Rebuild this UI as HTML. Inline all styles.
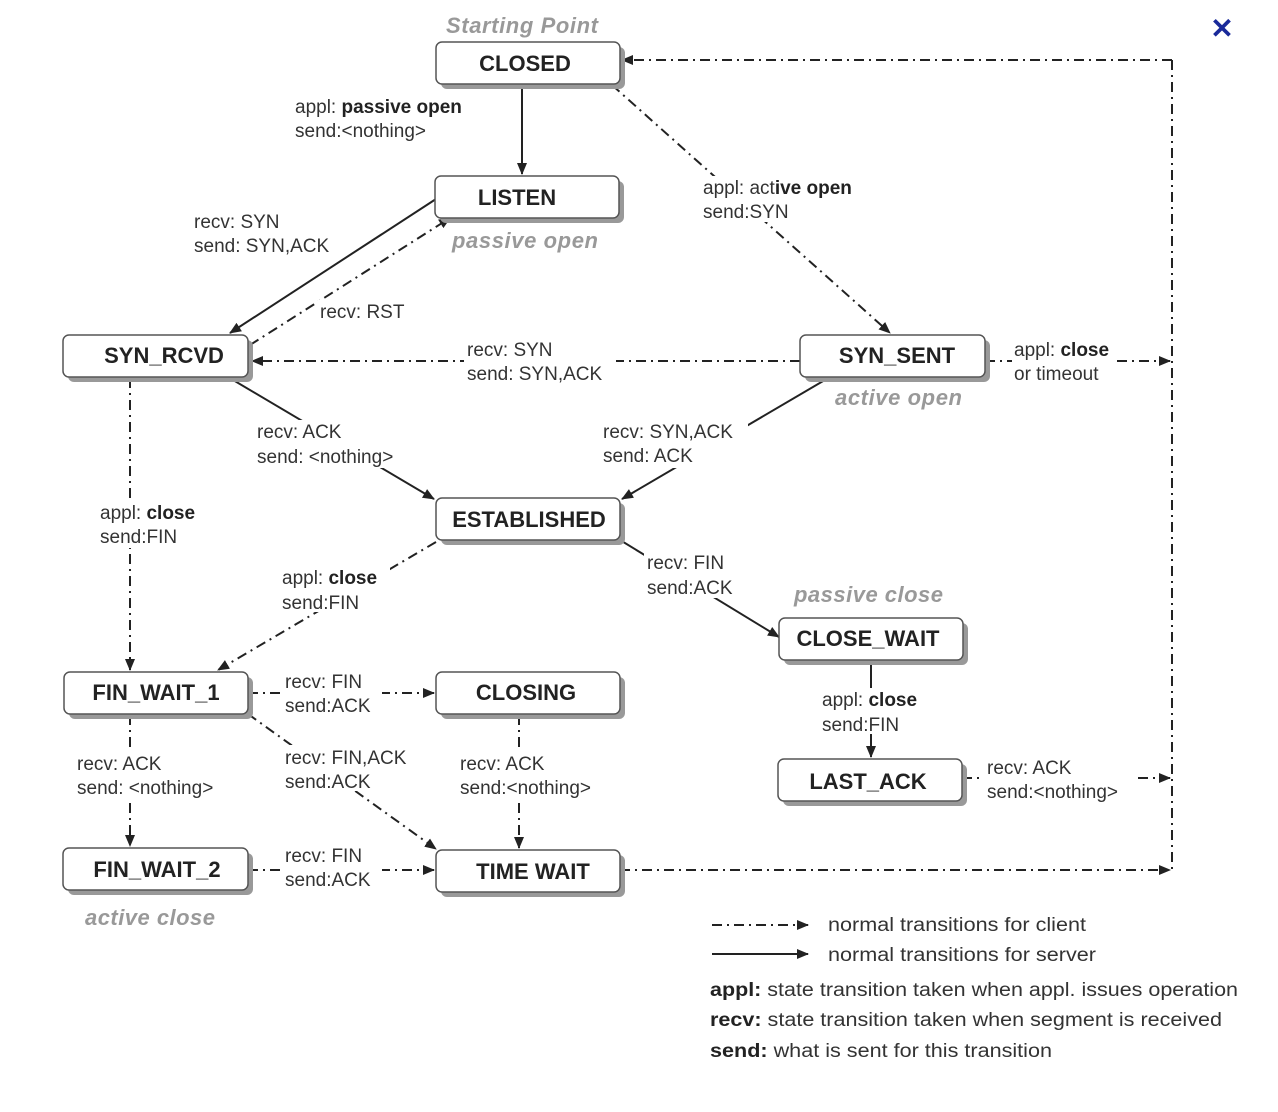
<!DOCTYPE html>
<html><head><meta charset="utf-8"><style>
html,body{margin:0;padding:0;background:#fff;}
svg{display:block;font-family:"Liberation Sans",Arial,sans-serif;}
.st{font-weight:bold;font-size:22px;fill:#222;text-anchor:middle;}
.lb{font-size:19px;fill:#333;}
.it{font-size:22px;fill:#999;font-style:italic;font-weight:bold;}
.d{stroke:#222;stroke-width:2;fill:none;stroke-dasharray:10,5,2,5;}
.s{stroke:#222;stroke-width:2;fill:none;}
.bg{fill:#fff;}
</style></head><body>
<svg width="1278" height="1112" viewBox="0 0 1278 1112" xmlns="http://www.w3.org/2000/svg">
<defs>
<marker id="a" markerWidth="12" markerHeight="10" refX="11" refY="5" orient="auto" markerUnits="userSpaceOnUse"><path d="M0,0 L12,5 L0,10 z" fill="#222"/></marker>
</defs>

<line class="s" x1="522" y1="85" x2="522" y2="174" marker-end="url(#a)"/>
<line class="s" x1="436" y1="199" x2="230" y2="333" marker-end="url(#a)"/>
<line class="d" x1="250" y1="345" x2="450" y2="218" marker-end="url(#a)"/>
<line class="d" x1="612" y1="85" x2="890" y2="333" marker-end="url(#a)"/>
<line class="d" x1="800" y1="361" x2="252" y2="361" marker-end="url(#a)"/>
<line class="s" x1="228" y1="377" x2="434" y2="499" marker-end="url(#a)"/>
<line class="s" x1="830" y1="377" x2="622" y2="499" marker-end="url(#a)"/>
<line class="d" x1="130" y1="378" x2="130" y2="670" marker-end="url(#a)"/>
<line class="d" x1="436" y1="542" x2="218" y2="670" marker-end="url(#a)"/>
<line class="s" x1="620" y1="540" x2="779" y2="637" marker-end="url(#a)"/>
<line class="s" x1="871" y1="661" x2="871" y2="757" marker-end="url(#a)"/>
<line class="d" x1="962" y1="778" x2="1170" y2="778" marker-end="url(#a)"/>
<line class="d" x1="248" y1="693" x2="434" y2="693" marker-end="url(#a)"/>
<line class="d" x1="248" y1="714" x2="436" y2="849" marker-end="url(#a)"/>
<line class="d" x1="130" y1="715" x2="130" y2="846" marker-end="url(#a)"/>
<line class="d" x1="519" y1="715" x2="519" y2="848" marker-end="url(#a)"/>
<line class="d" x1="248" y1="870" x2="434" y2="870" marker-end="url(#a)"/>
<line class="d" x1="620" y1="870" x2="1170" y2="870" marker-end="url(#a)"/>
<line class="d" x1="1172" y1="60" x2="1172" y2="870"/>
<line class="d" x1="1172" y1="60" x2="622" y2="60" marker-end="url(#a)"/>
<line class="d" x1="985" y1="361" x2="1170" y2="361" marker-end="url(#a)"/>

<rect class="bg" x="292" y="94" width="190" height="46"/>
<rect class="bg" x="190" y="208" width="155" height="48"/>
<rect class="bg" x="318" y="300" width="92" height="22"/>
<rect class="bg" x="700" y="176" width="168" height="46"/>
<rect class="bg" x="464" y="340" width="152" height="46"/>
<rect class="bg" x="1012" y="342" width="100" height="42"/>
<rect class="bg" x="254" y="420" width="155" height="48"/>
<rect class="bg" x="600" y="420" width="148" height="48"/>
<rect class="bg" x="96" y="500" width="110" height="48"/>
<rect class="bg" x="278" y="566" width="112" height="46"/>
<rect class="bg" x="644" y="550" width="100" height="48"/>
<rect class="bg" x="818" y="688" width="110" height="46"/>
<rect class="bg" x="984" y="756" width="150" height="46"/>
<rect class="bg" x="282" y="670" width="100" height="46"/>
<rect class="bg" x="282" y="745" width="140" height="46"/>
<rect class="bg" x="456" y="752" width="152" height="46"/>
<rect class="bg" x="74" y="752" width="156" height="46"/>
<rect class="bg" x="282" y="843" width="100" height="46"/>

<text class="lb" x="295" y="113">appl: <tspan font-weight="bold" fill="#222">passive open</tspan></text>
<text class="lb" x="295" y="137">send:&lt;nothing&gt;</text>
<text class="lb" x="194" y="228">recv: SYN</text>
<text class="lb" x="194" y="252">send: SYN,ACK</text>
<text class="lb" x="320" y="318">recv: RST</text>
<text class="lb" x="703" y="194">appl: act<tspan font-weight="bold" fill="#222">ive open</tspan></text>
<text class="lb" x="703" y="218">send:SYN</text>
<text class="lb" x="467" y="356">recv: SYN</text>
<text class="lb" x="467" y="380">send: SYN,ACK</text>
<text class="lb" x="1014" y="356">appl: <tspan font-weight="bold" fill="#222">close</tspan></text>
<text class="lb" x="1014" y="380">or timeout</text>
<text class="lb" x="257" y="438">recv: ACK</text>
<text class="lb" x="257" y="463">send: &lt;nothing&gt;</text>
<text class="lb" x="603" y="438">recv: SYN,ACK</text>
<text class="lb" x="603" y="462">send: ACK</text>
<text class="lb" x="100" y="519">appl: <tspan font-weight="bold" fill="#222">close</tspan></text>
<text class="lb" x="100" y="543">send:FIN</text>
<text class="lb" x="282" y="584">appl: <tspan font-weight="bold" fill="#222">close</tspan></text>
<text class="lb" x="282" y="609">send:FIN</text>
<text class="lb" x="647" y="569">recv: FIN</text>
<text class="lb" x="647" y="594">send:ACK</text>
<text class="lb" x="822" y="706">appl: <tspan font-weight="bold" fill="#222">close</tspan></text>
<text class="lb" x="822" y="731">send:FIN</text>
<text class="lb" x="987" y="774">recv: ACK</text>
<text class="lb" x="987" y="798">send:&lt;nothing&gt;</text>
<text class="lb" x="285" y="688">recv: FIN</text>
<text class="lb" x="285" y="712">send:ACK</text>
<text class="lb" x="285" y="764">recv: FIN,ACK</text>
<text class="lb" x="285" y="788">send:ACK</text>
<text class="lb" x="460" y="770">recv: ACK</text>
<text class="lb" x="460" y="794">send:&lt;nothing&gt;</text>
<text class="lb" x="77" y="770">recv: ACK</text>
<text class="lb" x="77" y="794">send: &lt;nothing&gt;</text>
<text class="lb" x="285" y="862">recv: FIN</text>
<text class="lb" x="285" y="886">send:ACK</text>

<text class="it" x="446" y="33" textLength="152">Starting Point</text>
<text class="it" x="452" y="248" textLength="146">passive open</text>
<text class="it" x="835" y="405" textLength="127">active open</text>
<text class="it" x="794" y="602" textLength="149">passive close</text>
<text class="it" x="85" y="925" textLength="130">active close</text>

<g>
<g transform="translate(436,42)"><rect x="5" y="5" width="184" height="42" rx="6" fill="#999"/><rect width="184" height="42" rx="6" fill="#fff" stroke="#555" stroke-width="1.5"/><text class="st" x="89" y="29">CLOSED</text></g>
<g transform="translate(435,176)"><rect x="5" y="5" width="184" height="42" rx="6" fill="#999"/><rect width="184" height="42" rx="6" fill="#fff" stroke="#555" stroke-width="1.5"/><text class="st" x="82" y="29">LISTEN</text></g>
<g transform="translate(63,335)"><rect x="5" y="5" width="185" height="42" rx="6" fill="#999"/><rect width="185" height="42" rx="6" fill="#fff" stroke="#555" stroke-width="1.5"/><text class="st" x="101" y="28">SYN_RCVD</text></g>
<g transform="translate(800,335)"><rect x="5" y="5" width="185" height="42" rx="6" fill="#999"/><rect width="185" height="42" rx="6" fill="#fff" stroke="#555" stroke-width="1.5"/><text class="st" x="97" y="28">SYN_SENT</text></g>
<g transform="translate(436,498)"><rect x="5" y="5" width="184" height="42" rx="6" fill="#999"/><rect width="184" height="42" rx="6" fill="#fff" stroke="#555" stroke-width="1.5"/><text class="st" x="93" y="29">ESTABLISHED</text></g>
<g transform="translate(779,618)"><rect x="5" y="5" width="184" height="42" rx="6" fill="#999"/><rect width="184" height="42" rx="6" fill="#fff" stroke="#555" stroke-width="1.5"/><text class="st" x="89" y="28">CLOSE_WAIT</text></g>
<g transform="translate(64,672)"><rect x="5" y="5" width="184" height="42" rx="6" fill="#999"/><rect width="184" height="42" rx="6" fill="#fff" stroke="#555" stroke-width="1.5"/><text class="st" x="92" y="28">FIN_WAIT_1</text></g>
<g transform="translate(436,672)"><rect x="5" y="5" width="184" height="42" rx="6" fill="#999"/><rect width="184" height="42" rx="6" fill="#fff" stroke="#555" stroke-width="1.5"/><text class="st" x="90" y="28">CLOSING</text></g>
<g transform="translate(778,759)"><rect x="5" y="5" width="184" height="42" rx="6" fill="#999"/><rect width="184" height="42" rx="6" fill="#fff" stroke="#555" stroke-width="1.5"/><text class="st" x="90" y="30">LAST_ACK</text></g>
<g transform="translate(63,848)"><rect x="5" y="5" width="185" height="42" rx="6" fill="#999"/><rect width="185" height="42" rx="6" fill="#fff" stroke="#555" stroke-width="1.5"/><text class="st" x="94" y="29">FIN_WAIT_2</text></g>
<g transform="translate(436,850)"><rect x="5" y="5" width="184" height="42" rx="6" fill="#999"/><rect width="184" height="42" rx="6" fill="#fff" stroke="#555" stroke-width="1.5"/><text class="st" x="97" y="29">TIME WAIT</text></g>
</g>

<text x="1222" y="38" font-size="28" font-weight="bold" fill="#1a2a9a" text-anchor="middle">✕</text>

<line class="d" x1="712" y1="925" x2="808" y2="925" marker-end="url(#a)"/>
<line class="s" x1="712" y1="954" x2="808" y2="954" marker-end="url(#a)"/>
<text class="lb" x="828" y="931" font-size="20" textLength="258" lengthAdjust="spacingAndGlyphs">normal transitions for client</text>
<text class="lb" x="828" y="961" font-size="20" textLength="268" lengthAdjust="spacingAndGlyphs">normal transitions for server</text>
<text class="lb" x="710" y="996" font-size="20" textLength="528" lengthAdjust="spacingAndGlyphs"><tspan font-weight="bold" fill="#222">appl:</tspan> state transition taken when appl. issues operation</text>
<text class="lb" x="710" y="1026" font-size="20" textLength="512" lengthAdjust="spacingAndGlyphs"><tspan font-weight="bold" fill="#222">recv:</tspan> state transition taken when segment is received</text>
<text class="lb" x="710" y="1057" font-size="20" textLength="342" lengthAdjust="spacingAndGlyphs"><tspan font-weight="bold" fill="#222">send:</tspan> what is sent for this transition</text>
</svg>
</body></html>
